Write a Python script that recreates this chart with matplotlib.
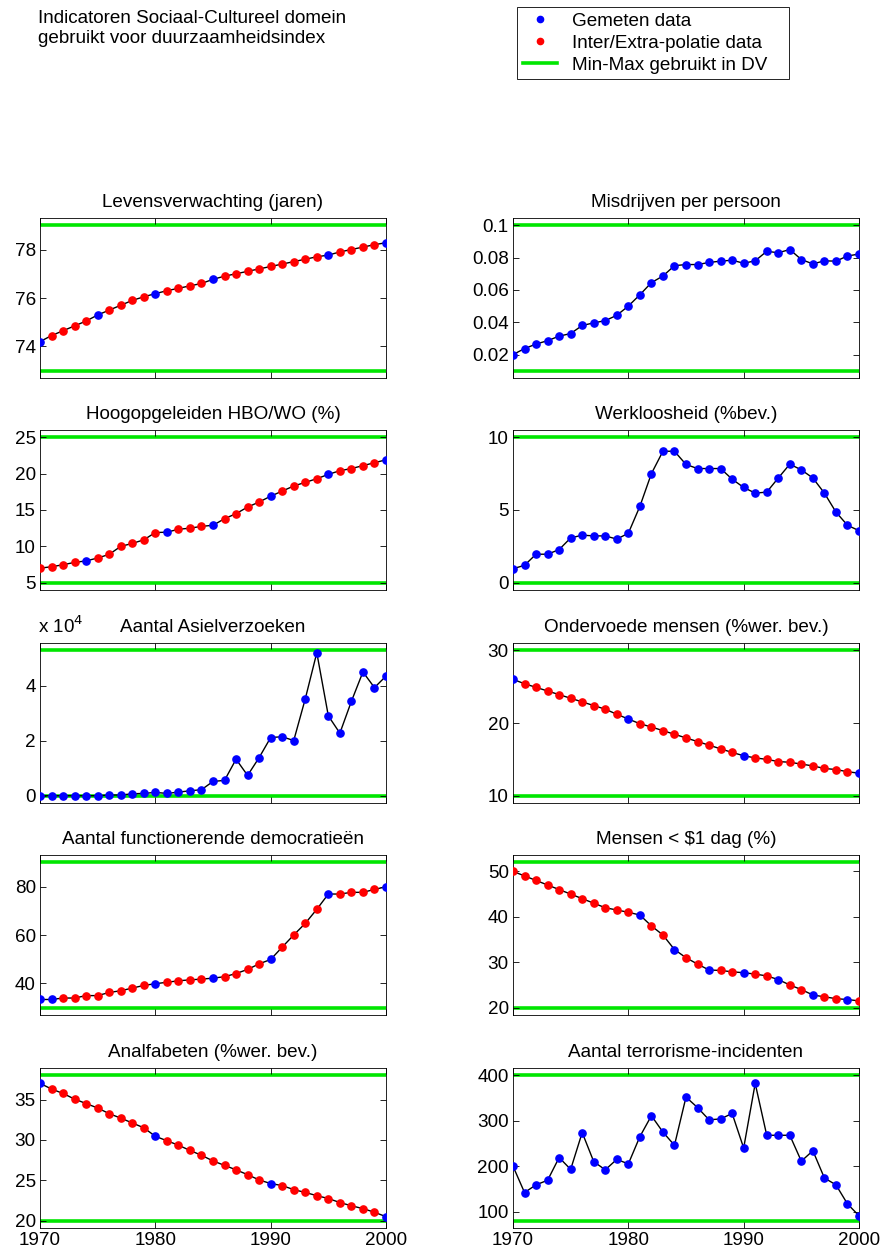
#Indicatoren Sociaal-Cultureel domein - duurzaamheidsindex
#recreated in matplotlib, one panel per indicator

import numpy as np
import matplotlib.pyplot as plt
from matplotlib.lines import Line2D

plt.rcParams['font.family'] = ['Liberation Sans', 'DejaVu Sans']

years = np.arange(1970, 2001)

# Levensverwachting (jaren)
levens = [74.2, 74.45, 74.65, 74.85, 75.05, 75.3, 75.5, 75.7, 75.9, 76.05,
          76.18, 76.3, 76.4, 76.5, 76.6, 76.77, 76.9, 77.0, 77.1, 77.2,
          77.3, 77.4, 77.5, 77.6, 77.7, 77.77, 77.9, 78.0, 78.1, 78.2, 78.28]
levens_gemeten = [1970, 1975, 1980, 1985, 1995, 2000]

# Misdrijven per persoon
misdrijven = [0.020, 0.0237, 0.0265, 0.0286, 0.0314, 0.033, 0.038, 0.0396, 0.041, 0.0443,
              0.050, 0.057, 0.0645, 0.0686, 0.075, 0.0757, 0.0757, 0.077, 0.0778, 0.0784,
              0.0765, 0.078, 0.0839, 0.083, 0.085, 0.0788, 0.0761, 0.078, 0.0778, 0.081, 0.0822]
misdrijven_gemeten = list(range(1970, 2001))

# Hoogopgeleiden HBO/WO (%)
hoogopg = [7.0, 7.2, 7.47, 7.8, 8.0, 8.4, 8.9, 10.0, 10.4, 10.9,
           11.9, 11.95, 12.35, 12.5, 12.75, 12.9, 13.8, 14.5, 15.4, 16.1,
           16.9, 17.6, 18.3, 18.8, 19.3, 19.9, 20.4, 20.7, 21.1, 21.5, 21.9]
hoogopg_gemeten = [1974, 1981, 1985, 1990, 1995, 2000]

# Werkloosheid (%bev.)
werkloos = [0.96, 1.2, 1.96, 1.96, 2.28, 3.08, 3.27, 3.22, 3.22, 3.0,
            3.4, 5.25, 7.5, 9.04, 9.04, 8.13, 7.85, 7.85, 7.85, 7.12,
            6.55, 6.16, 6.23, 7.2, 8.15, 7.76, 7.2, 6.16, 4.86, 3.95, 3.58]
werkloos_gemeten = list(range(1970, 2001))

# Aantal Asielverzoeken
asiel = [0, 0, 0, 0, 0, 0, 250, 250, 700, 850,
         1200, 850, 1300, 1800, 2200, 5200, 5600, 13300, 7400, 13900,
         21200, 21500, 20100, 35300, 52100, 29100, 22800, 34400, 45100, 39400, 43600]
asiel_gemeten = list(range(1970, 2001))

# Ondervoede mensen (%wer. bev.)
ondervoed = [26.0, 25.4, 24.9, 24.4, 23.9, 23.4, 22.9, 22.4, 21.9, 21.2,
             20.55, 19.9, 19.45, 18.95, 18.45, 17.95, 17.45, 16.95, 16.45, 15.95,
             15.5, 15.2, 15.0, 14.7, 14.6, 14.35, 14.1, 13.75, 13.6, 13.3, 13.1]
ondervoed_gemeten = [1970, 1980, 1990, 2000]

# Aantal functionerende democratieen
democr = [33.4, 33.4, 34.0, 34.0, 35.0, 35.0, 36.3, 37.0, 38.1, 39.2,
          39.9, 40.5, 41.1, 41.5, 41.8, 42.2, 42.8, 44.1, 45.8, 48.1,
          49.9, 55.0, 60.0, 64.8, 70.6, 76.9, 76.9, 77.6, 77.6, 78.8, 79.9]
democr_gemeten = [1970, 1971, 1980, 1985, 1990, 1995, 2000]

# Mensen < $1 dag (%)
armoede = [50.0, 49.0, 48.0, 47.0, 46.0, 45.0, 44.0, 43.0, 42.0, 41.5,
           41.0, 40.4, 38.0, 36.0, 32.8, 31.0, 29.6, 28.3, 28.2, 27.9,
           27.7, 27.4, 27.0, 26.2, 25.0, 24.0, 22.8, 22.4, 22.0, 21.8, 21.5]
armoede_gemeten = [1981, 1984, 1987, 1990, 1993, 1996, 1999]

# Analfabeten (%wer. bev.)
analfa = [37.0, 36.3, 35.75, 35.05, 34.5, 33.95, 33.25, 32.7, 32.1, 31.5,
          30.45, 29.9, 29.35, 28.7, 28.1, 27.4, 26.85, 26.3, 25.7, 25.05,
          24.6, 24.35, 23.85, 23.5, 23.1, 22.75, 22.25, 21.85, 21.5, 21.05, 20.5]
analfa_gemeten = [1970, 1980, 1990, 2000]

# Aantal terrorisme-incidenten
terror = [200, 142, 159, 169, 219, 193, 274, 210, 192, 215,
          205, 265, 311, 275, 246, 352, 329, 302, 304, 316,
          240, 382, 268, 268, 268, 211, 234, 174, 159, 117, 91]
terror_gemeten = list(range(1970, 2001))

titles = ['Levensverwachting (jaren)', 'Misdrijven per persoon',
          'Hoogopgeleiden HBO/WO (%)', 'Werkloosheid (%bev.)',
          'Aantal Asielverzoeken', 'Ondervoede mensen (%wer. bev.)',
          'Aantal functionerende democratieën', 'Mensen < $1 dag (%)',
          'Analfabeten (%wer. bev.)', 'Aantal terrorisme-incidenten']
series = [levens, misdrijven, hoogopg, werkloos, asiel,
          ondervoed, democr, armoede, analfa, terror]
gemeten = [levens_gemeten, misdrijven_gemeten, hoogopg_gemeten, werkloos_gemeten,
           asiel_gemeten, ondervoed_gemeten, democr_gemeten, armoede_gemeten,
           analfa_gemeten, terror_gemeten]
# min-max used in DV (green lines)
minmax = [(73, 79), (0.01, 0.1), (5, 25), (0, 10), (0, 53000),
          (10, 30), (30, 90), (20, 52), (20, 38), (80, 400)]
yticks = [[74, 76, 78], [0.02, 0.04, 0.06, 0.08, 0.1], [5, 10, 15, 20, 25],
          [0, 5, 10], [0, 20000, 40000], [10, 20, 30], [40, 60, 80],
          [20, 30, 40, 50], [20, 25, 30, 35], [100, 200, 300, 400]]
yticklabels = [['74', '76', '78'], ['0.02', '0.04', '0.06', '0.08', '0.1'],
               ['5', '10', '15', '20', '25'], ['0', '5', '10'], ['0', '2', '4'],
               ['10', '20', '30'], ['40', '60', '80'], ['20', '30', '40', '50'],
               ['20', '25', '30', '35'], ['100', '200', '300', '400']]

W, H = 882, 1253
fig = plt.figure(figsize=(W / 100, H / 100), dpi=100)

col_left = [40, 513]
row_top = [218, 430, 643, 855, 1068]
ax_w, ax_h = 346, 160

green = '#00e600'
fs = 13.6

for i in range(10):
    r, c = divmod(i, 2)
    ax = fig.add_axes([col_left[c] / W, 1 - (row_top[r] + ax_h) / H, ax_w / W, ax_h / H])
    y = np.array(series[i], dtype=float)
    lo, hi = minmax[i]
    ax.axhline(lo, color=green, lw=2.6, zorder=1)
    ax.axhline(hi, color=green, lw=2.6, zorder=1)
    ax.plot(years, y, color='black', lw=1.0, zorder=2)
    meas = np.isin(years, gemeten[i])
    ax.plot(years[~meas], y[~meas], 'o', color='red', ms=5.2, mec='red', zorder=3)
    ax.plot(years[meas], y[meas], 'o', color='blue', ms=5.2, mec='blue', zorder=3)
    pad = 0.05 * (hi - lo)
    ax.set_ylim(lo - pad, hi + pad)
    ax.set_xlim(1970, 2000)
    ax.set_xticks([1970, 1980, 1990, 2000])
    ax.set_yticks(yticks[i])
    ax.set_yticklabels(yticklabels[i])
    if r < 4:
        ax.set_xticklabels([])
    ax.tick_params(direction='in', top=True, right=True, length=4, width=0.6,
                   labelsize=fs, pad=3)
    for s in ax.spines.values():
        s.set_linewidth(0.6)
    ax.set_title(titles[i], fontsize=fs, pad=8)
    if i == 4:
        ax.text(-0.005, 1.04, r'x 10$^4$', transform=ax.transAxes, fontsize=fs,
                ha='left', va='bottom')

fig.text(38 / W, 1 - 10 / H, 'Indicatoren Sociaal-Cultureel domein\ngebruikt voor duurzaamheidsindex',
         fontsize=fs, va='top', ha='left', linespacing=1.25)

handles = [Line2D([], [], ls='none', marker='o', color='blue', ms=4.5),
           Line2D([], [], ls='none', marker='o', color='red', ms=4.5),
           Line2D([], [], color=green, lw=2.6)]
leg = fig.legend(handles, ['Gemeten data', 'Inter/Extra-polatie data', 'Min-Max gebruikt in DV   '],
                 loc='upper left', bbox_to_anchor=(517 / W, 1 - 7 / H), fontsize=fs,
                 frameon=True, fancybox=False, edgecolor='black', framealpha=1,
                 handlelength=1.8, handletextpad=0.8, borderpad=0.3, labelspacing=0.25,
                 borderaxespad=0)
leg.get_frame().set_linewidth(0.6)

plt.savefig('out.png', dpi=100)
